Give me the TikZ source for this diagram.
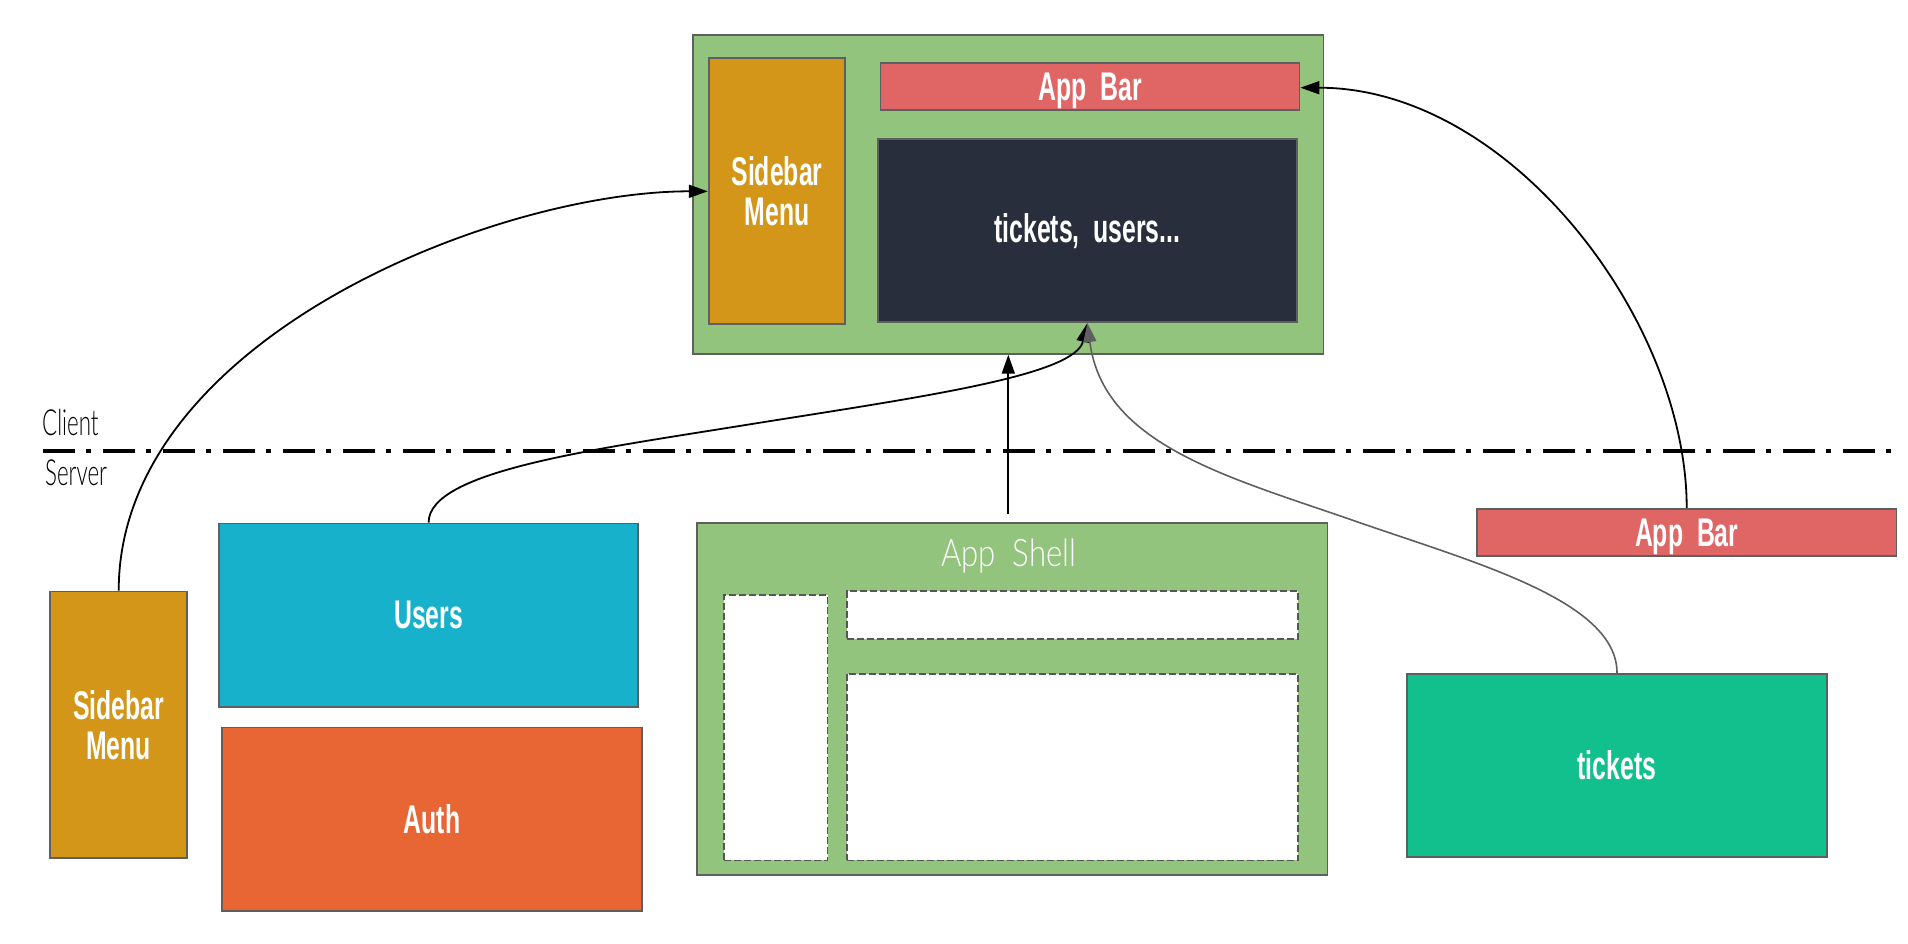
\documentclass[tikz,border=0pt]{standalone}
\usepackage{fontspec}
\usetikzlibrary{arrows.meta}
\newfontfamily\handfont[FakeStretch=0.62,WordSpace=2]{Liberation Sans}
\newfontfamily\handthin[FakeStretch=0.62]{Lato Light}
\newfontfamily\handwide[FakeStretch=0.82,WordSpace=2]{Lato Light}
\definecolor{shellgreen}{HTML}{93C47D}
\definecolor{menuyellow}{HTML}{D39618}
\definecolor{barred}{HTML}{E06666}
\definecolor{contentdark}{HTML}{282E3C}
\definecolor{usersblue}{HTML}{18B1CC}
\definecolor{authorange}{HTML}{E86634}
\definecolor{ticketsgreen}{HTML}{12C08E}
\definecolor{edgegray}{HTML}{5F5F5F}
\tikzset{
	box/.style={draw=edgegray,line width=1.8pt,inner sep=0pt,align=center,text=white,
		font=\handfont\bfseries\fontsize{40}{40}\selectfont},
	slot/.style={draw=edgegray!90!black,fill=white,line width=1.8pt,inner sep=0pt,dash pattern=on 7pt off 3pt},
	tag/.style={inner sep=0pt,font=\handthin\fontsize{36}{36}\selectfont},
	link/.style={line width=1.8pt,-{Triangle[length=19pt,width=13pt]}}
}

\begin{document}
\begin{tikzpicture}[x=1pt,y=-1pt]
	\useasboundingbox (0,0) rectangle (1908,943);
	%client
	\node[box,fill=shellgreen,minimum width=630.4pt,minimum height=319pt] (shell) at (1008.3,194.3) {};
	\node[box,fill=menuyellow,minimum width=136.6pt,minimum height=266pt] (menu) at (777,190.8) {Sidebar\\Menu};
	\node[box,fill=barred,text depth=0pt,minimum width=419pt,minimum height=47pt] (bar) at (1090,86.7) {App Bar};
	\node[box,fill=contentdark,minimum width=419pt,minimum height=183pt] (content) at (1087.4,230.7) {tickets, users...};
	%server
	\node[box,fill=menuyellow,minimum width=137pt,minimum height=266.4pt] (menusrv) at (118.7,724.7) {Sidebar\\Menu};
	\node[box,fill=usersblue,minimum width=419.5pt,minimum height=183.5pt] (users) at (428.6,615.2) {Users};
	\node[box,fill=authorange,minimum width=419.5pt,minimum height=183.4pt] (auth) at (432,819.1) {Auth};
	\node[box,fill=barred,text depth=0pt,minimum width=419.6pt,minimum height=47.4pt] (barsrv) at (1686.7,532.5) {App Bar};
	\node[box,fill=ticketsgreen,minimum width=419.7pt,minimum height=183.4pt] (tickets) at (1617,765.5) {tickets};
	%app shell
	\node[box,fill=shellgreen,minimum width=630.2pt,minimum height=352pt] (appshell) at (1012.4,699.2) {};
	\node[tag,font=\handwide\fontsize{38}{38}\selectfont,text=white] (shelltitle) at (1008.7,556) {App Shell};
	\node[slot,minimum width=103.2pt,minimum height=265.7pt] (slotmenu) at (775.9,727.6) {};
	\node[slot,minimum width=451.5pt,minimum height=47.6pt] (slotbar) at (1072.4,615) {};
	\node[slot,minimum width=451.5pt,minimum height=186.7pt] (slotcontent) at (1072.4,767.1) {};
	%split
	\coordinate (split west) at (43,451);
	\coordinate (split east) at (1891,451);
	\draw[line width=3.6pt,dash pattern=on 32pt off 11pt on 5pt off 12pt] (split west) -- (split east);
	\node[tag,anchor=west] (client) at (42,423) {Client};
	\node[tag,anchor=west] (server) at (45,473) {Server};
	%connectors
	\coordinate (shellstub) at (1008.3,514);
	\coordinate (usersbend) at (758,423);
	\coordinate (ticketsbend) at (1352,520);
	\draw[link] (menusrv.north) .. controls (118.7,340) and (495,191.3) .. (menu.west |- 0,191.3);
	\draw[link] (users.north) .. controls (428.6,470) and (598,449) .. (usersbend)
		.. controls (928,396) and (1075,375) .. (content.south);
	\draw[link] (shellstub) -- (shell.south -| shellstub);
	\draw[link,line width=1.6pt,draw=edgegray] (tickets.north) .. controls (1617,600) and (1472,562) .. (ticketsbend)
		.. controls (1225,476) and (1103,444) .. (content.south);
	\draw[link] (barsrv.north) .. controls (1686.7,320) and (1510,87.7) .. (bar.east |- 0,87.7);
\end{tikzpicture}
\end{document}
